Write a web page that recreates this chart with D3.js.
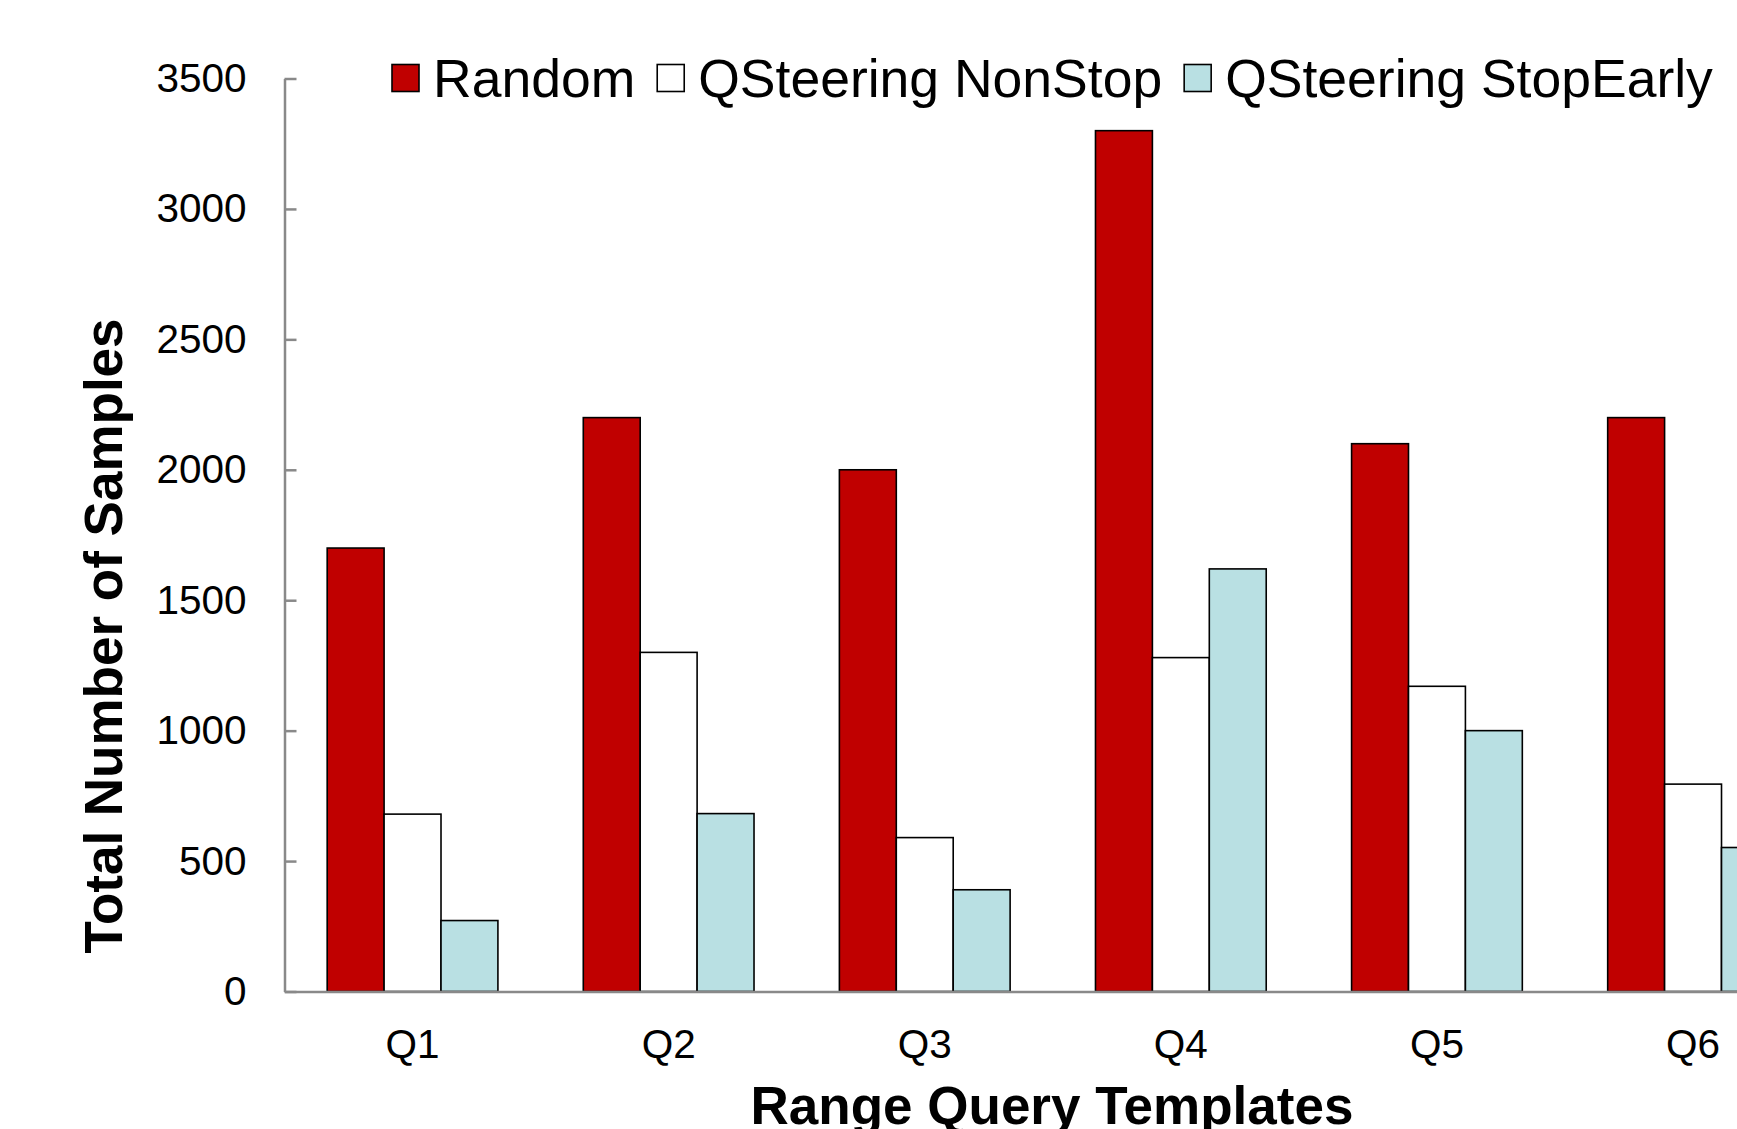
<!DOCTYPE html>
<html>
<head>
<meta charset="utf-8">
<script src="https://cdn.jsdelivr.net/npm/d3@7/dist/d3.min.js"></script>
<style>
  html, body { margin: 0; padding: 0; background: #fff; }
  svg { display: block; font-family: "Liberation Sans", Arial, sans-serif; }
</style>
</head>
<body>
<svg id="chart" width="1737" height="1129"></svg>
<script>
const categories = ["Q1", "Q2", "Q3", "Q4", "Q5", "Q6"];
const seriesNames = ["Random", "QSteering NonStop", "QSteering StopEarly"];
const randomValues = [1700, 2200, 2000, 3300, 2100, 2200];
const nonStopValues = [680, 1300, 590, 1280, 1170, 795];
const stopEarlyValues = [272, 682, 390, 1620, 1000, 552];
const yTicks = [0, 500, 1000, 1500, 2000, 2500, 3000, 3500];
const seriesColors = ["#C00000", "#FFFFFF", "#B9E0E3"];
const yTitle = "Total Number of Samples";
const xTitle = "Range Query Templates";

const seriesValues = [randomValues, nonStopValues, stopEarlyValues];
const rows = categories.map((c, i) => ({
  cat: c,
  vals: seriesNames.map((s, j) => ({ key: s, value: seriesValues[j][i], color: seriesColors[j] }))
}));

const svg = d3.select("#chart");
const axisX = 284.5, y0 = 991.5, yTop = 78.5;
const step = 256.1;

const x = d3.scaleBand()
  .domain(categories)
  .range([axisX, axisX + step * categories.length])
  .paddingInner(1 / 3)
  .paddingOuter(1 / 6);

const xs = d3.scaleBand().domain(seriesNames).range([0, x.bandwidth()]).padding(0);

const y = d3.scaleLinear().domain([0, 3500]).range([y0, yTop]);

// Bars
const groups = svg.append("g").selectAll("g").data(rows).join("g")
  .attr("transform", d => `translate(${x(d.cat)},0)`);
groups.selectAll("rect").data(d => d.vals).join("rect")
  .attr("x", d => xs(d.key))
  .attr("y", d => y(d.value))
  .attr("width", xs.bandwidth())
  .attr("height", d => y(0) - y(d.value))
  .attr("fill", d => d.color)
  .attr("stroke", "#000")
  .attr("stroke-width", 1.6);

// Y axis
const yAxis = d3.axisLeft(y).tickValues(yTicks).tickSizeInner(-12).tickSizeOuter(0).tickPadding(38)
  .tickFormat(d3.format("d"));
const gy = svg.append("g").attr("transform", `translate(${axisX},0)`).call(yAxis);
gy.select(".domain").attr("stroke", "#898989").attr("stroke-width", 2.5);
gy.selectAll(".tick line").attr("stroke", "#898989").attr("stroke-width", 2.5);
gy.selectAll(".tick text").attr("font-size", 40.5).attr("fill", "#000")
  .attr("font-family", "Liberation Sans, Arial, sans-serif");

// X axis
const xAxis = d3.axisBottom(x).tickSize(0).tickSizeOuter(0);
const gx = svg.append("g").attr("transform", `translate(0,${y0})`).call(xAxis);
gx.select(".domain").attr("stroke", "#898989").attr("stroke-width", 2.5);
gx.selectAll(".tick text").attr("font-size", 40.5).attr("fill", "#000")
  .attr("font-family", "Liberation Sans, Arial, sans-serif")
  .attr("y", 66.5).attr("dy", 0);

// Axis titles
svg.append("text")
  .attr("transform", "translate(122,636) rotate(-90)")
  .attr("text-anchor", "middle")
  .attr("font-size", 53).attr("font-weight", "bold")
  .text(yTitle);
svg.append("text")
  .attr("x", 1052).attr("y", 1124)
  .attr("text-anchor", "middle")
  .attr("font-size", 53).attr("font-weight", "bold")
  .text(xTitle);

// Legend
const legend = svg.append("g");
let lx = 392;
seriesNames.forEach((name, i) => {
  legend.append("rect")
    .attr("x", lx).attr("y", 64.5).attr("width", 27).attr("height", 27)
    .attr("fill", seriesColors[i]).attr("stroke", "#000").attr("stroke-width", 1.6);
  const t = legend.append("text")
    .attr("x", lx + 41).attr("y", 96.5)
    .attr("font-size", 53.5).attr("fill", "#000")
    .text(name);
  const w = t.node().getComputedTextLength();
  lx = lx + 41 + w + 22;
});
</script>
</body>
</html>
